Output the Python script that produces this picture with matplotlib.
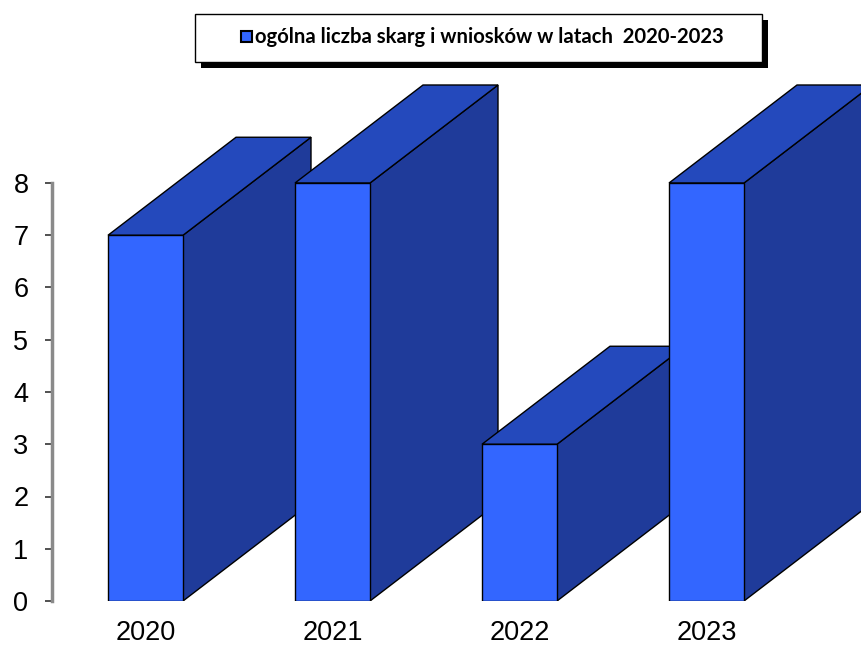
import numpy as np
import matplotlib.pyplot as plt
from matplotlib.patches import Polygon, Rectangle

years = ['2020', '2021', '2022', '2023']
counts = [7, 8, 3, 8]
legend_label = 'ogólna liczba skarg i wniosków w latach  2020-2023'

front_col = '#3366FF'
top_col = '#2449BC'
side_col = '#1F3B9A'

fig = plt.figure(figsize=(8.61, 6.46), dpi=100)
# axes: y=0 at pixel 601, y=8 at pixel 183, left spine at x=52
ax = fig.add_axes([52 / 861, 45 / 646, 1 - 52 / 861, 601 / 646])
px_per_unit = (601 - 183) / 8
ax.set_ylim(0, 601 / px_per_unit)
ax.set_xlim(-0.5, -0.5 + (861 - 52) / 187)

w = 75 / 187          # bar width in category units
dx = 128 / 187        # depth shift right
dy = 98 / px_per_unit # depth shift up

x = np.arange(len(years))
for i, (xi, v) in enumerate(zip(x, counts)):
    x0, x1 = xi - w / 2, xi + w / 2
    z = 2 + i * 3
    side = Polygon([(x1, 0), (x1 + dx, dy), (x1 + dx, v + dy), (x1, v)],
                   closed=True, fc=side_col, ec='black', lw=1, zorder=z)
    top = Polygon([(x0, v), (x1, v), (x1 + dx, v + dy), (x0 + dx, v + dy)],
                  closed=True, fc=top_col, ec='black', lw=1, zorder=z + 1)
    front = Polygon([(x0, 0), (x1, 0), (x1, v), (x0, v)],
                    closed=True, fc=front_col, ec='black', lw=1, zorder=z + 2)
    for p in (side, top, front):
        ax.add_patch(p)

ax.set_yticks(range(0, 9))
ax.set_xticks(x)
ax.set_xticklabels(years)
for s in ['top', 'right', 'bottom']:
    ax.spines[s].set_visible(False)
ax.spines['left'].set_bounds(0, 8)
ax.spines['left'].set_color('#8a8a8a')
ax.spines['left'].set_linewidth(2.5)
ax.tick_params(axis='y', direction='out', length=5, width=1.2, color='#333333',
               pad=12, labelsize=19.5, labelcolor='black')
ax.tick_params(axis='x', length=0, pad=14, labelsize=19.5)
for lab in ax.get_xticklabels() + ax.get_yticklabels():
    lab.set_fontfamily('Liberation Sans')
ax.patch.set_visible(False)

# legend box with shadow (figure pixels)
def fbox(x0, y0, x1, y1, **kw):
    return Rectangle((x0 / 861, 1 - y1 / 646), (x1 - x0) / 861, (y1 - y0) / 646,
                     transform=fig.transFigure, **kw)

fig.patches.append(fbox(201, 20, 768, 68, fc='black', ec='none', zorder=10))
fig.patches.append(fbox(195, 14, 762, 62, fc='white', ec='black', lw=1, zorder=11))
fig.patches.append(fbox(241, 31, 252, 42, fc=front_col, ec='black', lw=1.5, zorder=12))
fig.text(255 / 861, 1 - 37 / 646, legend_label, ha='left', va='center',
         fontsize=14.6, fontweight='bold', family='Lato', zorder=13)

fig.savefig('out.png', dpi=100)
